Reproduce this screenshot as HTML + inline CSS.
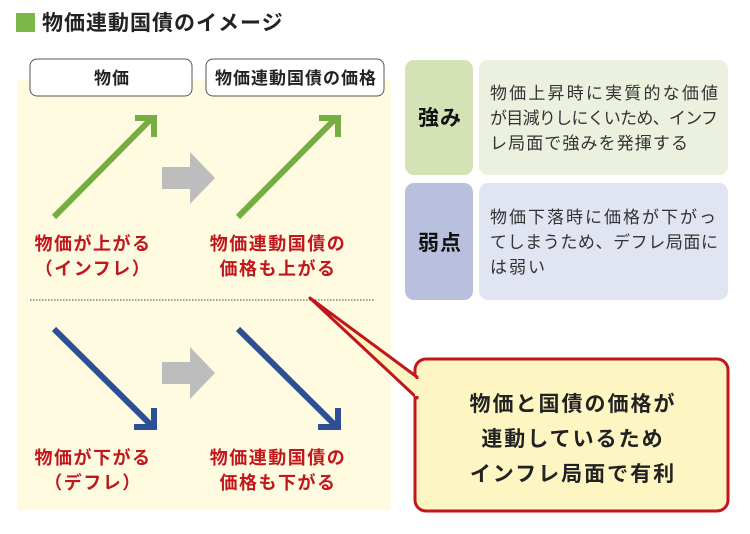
<!DOCTYPE html>
<html><head><meta charset="utf-8"><style>
body{margin:0;background:#fff;}
svg text{font-family:"Liberation Sans","Noto Sans CJK JP",sans-serif;}
</style></head><body>
<svg width="750" height="529" viewBox="0 0 750 529" xmlns="http://www.w3.org/2000/svg">
<rect x="16" y="13" width="19" height="19" fill="#7ab648"/>
<text x="42" y="30" font-size="21" font-weight="bold" fill="#222" letter-spacing="1">物価連動国債のイメージ</text>
<rect x="17" y="80" width="374" height="430" fill="#fffbe0"/>
<rect x="30" y="59" width="162" height="37" rx="7" fill="#fff" stroke="#555" stroke-width="1"/>
<text x="112" y="84" font-size="17" font-weight="bold" text-anchor="middle" fill="#222" letter-spacing="1">物価</text>
<rect x="206" y="59" width="178" height="37" rx="7" fill="#fff" stroke="#555" stroke-width="1"/>
<text x="296" y="84" font-size="17" font-weight="bold" text-anchor="middle" fill="#222" letter-spacing="1">物価連動国債の価格</text>
<g stroke="#76ad42" stroke-width="6" fill="none">
<line x1="54" y1="217" x2="152" y2="118"/><polyline points="135,118 154,118 154,137"/>
<line x1="238" y1="217" x2="336" y2="118"/><polyline points="319,118 338,118 338,137"/>
</g>
<g stroke="#2e4e96" stroke-width="6" fill="none">
<line x1="54" y1="329" x2="152" y2="426"/><polyline points="134,427 154,427 154,408"/>
<line x1="238" y1="329" x2="336" y2="426"/><polyline points="318,427 338,427 338,408"/>
</g>
<g fill="#bdbdbd">
<polygon points="162,167 190,167 190,152 215,178 190,204 190,189 162,189"/>
<polygon points="162,362 190,362 190,347 215,373 190,399 190,384 162,384"/>
</g>
<line x1="30" y1="300" x2="374" y2="300" stroke="#444" stroke-width="1" stroke-dasharray="1.5,1.5"/>
<g font-size="18" font-weight="bold" fill="#c0161c" text-anchor="middle" letter-spacing="1.5">
<text x="93" y="250">物価が上がる</text><text x="93" y="275">（インフレ）</text>
<text x="278" y="250">物価連動国債の</text><text x="278" y="275">価格も上がる</text>
<text x="93" y="464">物価が下がる</text><text x="93" y="489">（デフレ）</text>
<text x="278" y="464">物価連動国債の</text><text x="278" y="489">価格も下がる</text>
</g>
<rect x="405" y="60" width="68" height="115" rx="9" fill="#d3e3b5"/>
<rect x="479" y="60" width="249" height="115" rx="9" fill="#ebf1de"/>
<rect x="405" y="183" width="68" height="117" rx="9" fill="#b8c0de"/>
<rect x="479" y="183" width="249" height="117" rx="9" fill="#e1e4f1"/>
<g font-size="21" font-weight="bold" fill="#111" text-anchor="middle" letter-spacing="1">
<text x="440" y="125">強み</text><text x="440" y="250">弱点</text>
</g>
<g font-size="17" fill="#333">
<text x="490" y="99" textLength="228" lengthAdjust="spacing">物価上昇時に実質的な価値</text>
<text x="490" y="124" textLength="228" lengthAdjust="spacing">が目減りしにくいため、インフ</text>
<text x="490" y="149" textLength="198" lengthAdjust="spacing">レ局面で強みを発揮する</text>
<text x="490" y="223" textLength="226" lengthAdjust="spacing">物価下落時に価格が下がっ</text>
<text x="490" y="248" textLength="228" lengthAdjust="spacing">てしまうため、デフレ局面に</text>
<text x="490" y="273" letter-spacing="2">は弱い</text>
</g>
<rect x="415" y="359" width="313" height="152" rx="11" fill="#fdf6c3" stroke="#c0161c" stroke-width="3"/>
<polygon points="310,298 417,377 417,398" fill="#fdf6c3" stroke="#c0161c" stroke-width="3" stroke-linejoin="round"/>
<line x1="417" y1="379" x2="417" y2="396" stroke="#fdf6c3" stroke-width="4"/>
<g font-size="21" font-weight="bold" fill="#222" text-anchor="middle" letter-spacing="2">
<text x="573" y="411">物価と国債の価格が</text>
<text x="573" y="446">連動しているため</text>
<text x="573" y="481">インフレ局面で有利</text>
</g>
</svg>
</body></html>
